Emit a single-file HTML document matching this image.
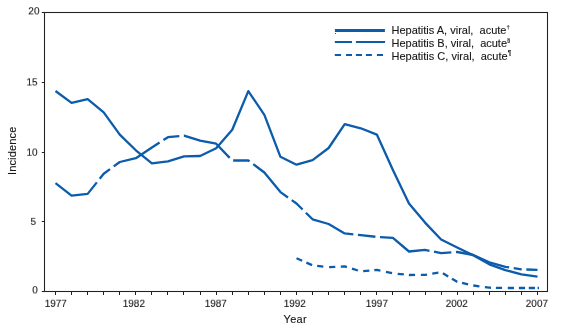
<!DOCTYPE html>
<html><head><meta charset="utf-8"><style>
html,body{margin:0;padding:0;background:#fff;width:563px;height:327px;overflow:hidden}
svg{display:block;will-change:transform}
.ov{position:absolute;left:0;top:0;overflow:visible;transform-origin:0 0;transform:scaleY(0.9)}
text{font-family:"Liberation Sans",sans-serif;fill:#1a1718;stroke:#1a1718;stroke-width:0.12px}
</style></head><body>
<svg width="563" height="327" viewBox="0 0 563 327">
<g stroke="#231f20" stroke-width="1.05" fill="none">
<rect x="44.5" y="12.5" width="503" height="279" />
<line x1="55.5" y1="291.5" x2="55.5" y2="295" /><line x1="71.5" y1="291.5" x2="71.5" y2="295" /><line x1="87.5" y1="291.5" x2="87.5" y2="295" /><line x1="103.5" y1="291.5" x2="103.5" y2="295" /><line x1="119.5" y1="291.5" x2="119.5" y2="295" /><line x1="135.5" y1="291.5" x2="135.5" y2="295" /><line x1="151.5" y1="291.5" x2="151.5" y2="295" /><line x1="167.5" y1="291.5" x2="167.5" y2="295" /><line x1="183.5" y1="291.5" x2="183.5" y2="295" /><line x1="200.5" y1="291.5" x2="200.5" y2="295" /><line x1="216.5" y1="291.5" x2="216.5" y2="295" /><line x1="232.5" y1="291.5" x2="232.5" y2="295" /><line x1="248.5" y1="291.5" x2="248.5" y2="295" /><line x1="264.5" y1="291.5" x2="264.5" y2="295" /><line x1="280.5" y1="291.5" x2="280.5" y2="295" /><line x1="296.5" y1="291.5" x2="296.5" y2="295" /><line x1="312.5" y1="291.5" x2="312.5" y2="295" /><line x1="328.5" y1="291.5" x2="328.5" y2="295" /><line x1="344.5" y1="291.5" x2="344.5" y2="295" /><line x1="360.5" y1="291.5" x2="360.5" y2="295" /><line x1="376.5" y1="291.5" x2="376.5" y2="295" /><line x1="392.5" y1="291.5" x2="392.5" y2="295" /><line x1="409.5" y1="291.5" x2="409.5" y2="295" /><line x1="425.5" y1="291.5" x2="425.5" y2="295" /><line x1="441.5" y1="291.5" x2="441.5" y2="295" /><line x1="457.5" y1="291.5" x2="457.5" y2="295" /><line x1="473.5" y1="291.5" x2="473.5" y2="295" /><line x1="489.5" y1="291.5" x2="489.5" y2="295" /><line x1="505.5" y1="291.5" x2="505.5" y2="295" /><line x1="521.5" y1="291.5" x2="521.5" y2="295" /><line x1="537.5" y1="291.5" x2="537.5" y2="295" /><line x1="41.8" y1="12.50" x2="44.5" y2="12.50" /><line x1="41.8" y1="82.50" x2="44.5" y2="82.50" /><line x1="41.8" y1="152.50" x2="44.5" y2="152.50" /><line x1="41.8" y1="221.50" x2="44.5" y2="221.50" /><line x1="41.8" y1="291.50" x2="44.5" y2="291.50" />
</g>

<text x="295.3" y="323" font-size="11" letter-spacing="0.3" text-anchor="middle">Year</text>
<text transform="translate(16.2 150.8) rotate(-90)" font-size="11" letter-spacing="0.15" text-anchor="middle">Incidence</text>
<g fill="none" stroke="#0c5cab" stroke-width="2.3" stroke-linejoin="round" stroke-linecap="butt">
<path d="M55.50 91.00 L71.57 102.90 L87.63 99.10 L103.70 112.40 L119.77 134.60 L135.84 150.30 L151.90 163.30 L167.97 161.40 L184.04 156.30 L200.10 156.00 L216.17 148.30 L232.24 129.70 L248.30 91.10 L264.37 114.90 L280.44 156.80 L296.50 164.70 L312.57 160.10 L328.64 148.00 L344.71 124.10 L360.77 128.30 L376.84 134.60 L392.91 170.00 L408.97 203.50 L425.04 222.60 L441.11 239.50 L457.18 247.50 L473.24 255.20 L489.31 264.30 L505.38 270.10 L521.44 274.40 L537.51 276.70" />
<path d="M55.50 183.10 L71.57 195.60 L87.63 193.90 L103.70 173.80 L119.77 162.00 L135.84 158.20 L151.90 147.50 L167.97 137.20 L184.04 135.60 L200.10 140.60 L216.17 143.70 L232.24 160.50 L248.30 160.50 L264.37 172.50 L280.44 192.10 L296.50 203.50 L312.57 219.30 L328.64 224.00 L344.71 233.40 L360.77 235.10 L376.84 236.90 L392.91 237.90 L408.97 251.50 L425.04 249.90 L441.11 253.10 L457.18 252.00 L473.24 255.00 L489.31 262.40 L505.38 266.90 L521.44 269.30 L537.51 269.90" stroke-dasharray="51.25 4.60 14.22 4.60 52.45 4.60 16.75 4.60 52.91 4.60 16.72 4.60 48.49 4.60 14.37 4.60 53.42 4.60 17.63 4.60 54.65 4.60 17.53 4.60 55.76 4.60 8.11 4.60 16.23 0.00" />
<path d="M296.50 258.30 L312.57 265.30 L328.64 267.20 L344.71 266.40 L360.77 271.40 L376.84 269.90 L392.91 273.30 L408.97 275.00 L425.04 274.90 L441.11 272.30 L457.18 281.80 L473.24 285.50 L489.31 287.70 L505.38 288.00 L521.44 288.00 L537.51 288.00" stroke-dasharray="6.20 4.59 6.20 5.19 6.20 5.78 6.20 5.51 6.20 5.35 6.20 5.43 6.20 4.95 6.20 5.71 6.20 5.68 6.20 5.06 6.20 5.80 6.20 5.29 6.20 4.80 6.20 4.37 6.20 4.87 6.20 5.29 6.20 5.51 6.20 4.84 6.20 5.70 6.20 4.90 6.20 3.70 6.20 2.51 0.00 100.00" />
<path d="M537.6 288 H539" />
</g>
<g stroke="#0c5cab" fill="none">
<rect x="335" y="33" width="1" height="1" fill="#0c5cab" stroke="none"/>
<line x1="334.9" y1="30.5" x2="384.9" y2="30.5" stroke-width="3" />
<path d="M334.8 42 H352 M355.9 42 H385.1" stroke-width="2.1" />
<path d="M334.8 55 H341 M346 55 H352 M355.9 55 H362 M365.9 55 H371.9 M376.9 55 H383" stroke-width="2.1" />
</g>
<g font-size="11">
<text x="391.5" y="34" xml:space="preserve">Hepatitis A, viral,  acute<tspan font-size="6" dy="-5.5">†</tspan></text>
<text x="391.5" y="47" xml:space="preserve">Hepatitis B, viral,  acute<tspan font-size="6" dy="-5.3">§</tspan></text>
<text x="391.5" y="60" xml:space="preserve">Hepatitis C, viral,  acute<tspan font-size="6.5" dy="-5">¶</tspan></text>
</g>
</svg>
<svg class="ov" width="563" height="327" viewBox="0 0 563 327"><g font-size="10"><text x="39.5" y="15.89" text-anchor="end">20</text><text x="37.5" y="95.00" text-anchor="end">15</text><text x="37.5" y="173.00" text-anchor="end">10</text><text x="36.1" y="250.00" text-anchor="end">5</text><text x="37.8" y="326.44" text-anchor="end">0</text><text x="55.80" y="341.33" text-anchor="middle">1977</text><text x="133.84" y="341.33" text-anchor="middle">1982</text><text x="215.77" y="341.33" text-anchor="middle">1987</text><text x="294.81" y="341.33" text-anchor="middle">1992</text><text x="376.84" y="341.33" text-anchor="middle">1997</text><text x="456.78" y="341.33" text-anchor="middle">2002</text><text x="536.91" y="341.33" text-anchor="middle">2007</text></g></svg>
</body></html>
